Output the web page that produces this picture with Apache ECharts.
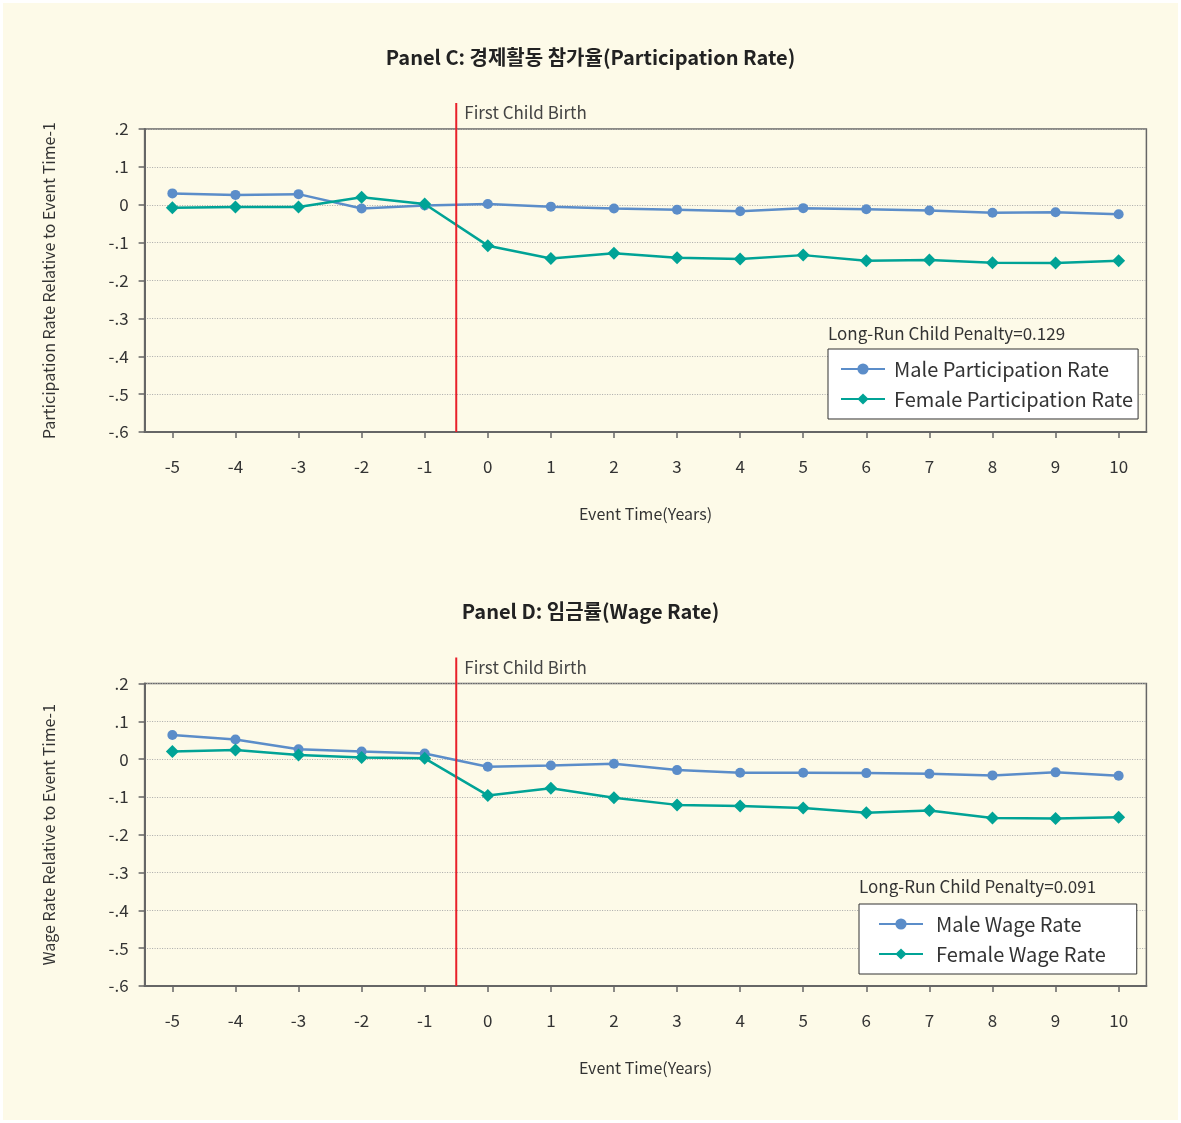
<!DOCTYPE html>
<html>
<head>
<meta charset="utf-8">
<script src="https://cdn.jsdelivr.net/npm/echarts@6/dist/echarts.min.js"></script>
<style>
html,body{margin:0;padding:0;background:#fff;}
#chart{width:1181px;height:1123px;background:#FDFAE8;box-shadow:inset 0 0 0 3px #fff;}
</style>
</head>
<body>
<div id="chart"></div>
<script>
const years = [-5,-4,-3,-2,-1,0,1,2,3,4,5,6,7,8,9,10];
const yTicks = [0.2,0.1,0,-0.1,-0.2,-0.3,-0.4,-0.5,-0.6];
const maleParticipation   = [0.030,0.026,0.028,-0.010,-0.002,0.002,-0.005,-0.010,-0.013,-0.017,-0.009,-0.012,-0.015,-0.021,-0.020,-0.025];
const femaleParticipation = [-0.008,-0.006,-0.006,0.020,0.002,-0.108,-0.142,-0.128,-0.140,-0.143,-0.133,-0.148,-0.146,-0.153,-0.154,-0.148];
const maleWage   = [0.064,0.052,0.026,0.020,0.015,-0.020,-0.017,-0.012,-0.029,-0.036,-0.036,-0.037,-0.039,-0.043,-0.035,-0.044];
const femaleWage = [0.020,0.024,0.011,0.004,0.002,-0.096,-0.077,-0.102,-0.121,-0.124,-0.129,-0.142,-0.136,-0.156,-0.157,-0.154];
const eventLine = [-0.5];
const panelTitles = ['Panel C: 경제활동 참가율(Participation Rate)','Panel D: 임금률(Wage Rate)'];
const yNames = ['Participation Rate Relative to Event Time-1','Wage Rate Relative to Event Time-1'];
const penaltyTexts = ['Long-Run Child Penalty=0.129','Long-Run Child Penalty=0.091'];
const seriesNames = [['Male Participation Rate','Female Participation Rate'],['Male Wage Rate','Female Wage Rate']];
const seriesData = [[maleParticipation,femaleParticipation],[maleWage,femaleWage]];

const FONT = '"Noto Sans CJK KR","Noto Sans",sans-serif';
const BLUE = '#5B8DC9';
const TEAL = '#00A396';
const YMIN = -0.6, YMAX = 0.2;

function fmtY(v){
  const r = Math.round(v*10)/10;
  if (r === 0) return '0';
  return (r<0?'-':'') + Math.abs(r).toFixed(1).replace(/^0/,'');
}

const grids = [
  {left:144.6, top:129, width:1001.8, height:303},
  {left:144.6, top:683.5, width:1001.8, height:302.5}
];

const chart = echarts.init(document.getElementById('chart'), null, {renderer:'canvas'});

const xAxes = grids.map((g,i)=>({
  type:'value', gridIndex:i, min:-5.44, max:10.44,
  name:'Event Time(Years)', nameLocation:'middle', nameGap:74,
  nameTextStyle:{fontSize:16, color:'#333', fontFamily:FONT},
  axisLine:{show:true, onZero:false, lineStyle:{color:'#666', width:2}},
  axisTick:{show:true, customValues:years, length:6, lineStyle:{color:'#666', width:1.5}},
  axisLabel:{customValues:years, margin:26, fontSize:17, color:'#333', fontFamily:FONT},
  splitLine:{show:false}
}));
const yAxes = grids.map((g,i)=>({
  type:'value', gridIndex:i, min:YMIN, max:YMAX, interval:0.1,
  name:yNames[i], nameLocation:'middle', nameGap:88,
  nameTextStyle:{fontSize:16, color:'#333', fontFamily:FONT},
  axisLine:{show:true, onZero:false, lineStyle:{color:'#666', width:2}},
  axisTick:{show:true, length:6, lineStyle:{color:'#666', width:1.5}},
  axisLabel:{formatter:fmtY, margin:16, fontSize:17, color:'#333', fontFamily:FONT},
  splitLine:{show:true, lineStyle:{color:'#aaa', type:[1,1.5], width:1}}
}));

const series = [];
for (let i=0;i<2;i++){
  series.push({
    name:seriesNames[i][0], type:'line', xAxisIndex:i, yAxisIndex:i,
    data:years.map((x,k)=>[x,seriesData[i][0][k]]),
    symbol:'circle', symbolSize:10, color:BLUE,
    lineStyle:{width:2.5, color:BLUE}, itemStyle:{color:BLUE}, z:3
  });
  series.push({
    name:seriesNames[i][1], type:'line', xAxisIndex:i, yAxisIndex:i,
    data:years.map((x,k)=>[x,seriesData[i][1][k]]),
    symbol:'diamond', symbolSize:13, color:TEAL,
    lineStyle:{width:2.5, color:TEAL}, itemStyle:{color:TEAL}, z:4
  });
  series.push({
    type:'custom', xAxisIndex:i, yAxisIndex:i, clip:false, silent:true, z:5,
    data:eventLine.map(v=>[v]),
    renderItem:function(params, api){
      const x = api.coord([api.value(0), YMAX])[0];
      const yTop = api.coord([api.value(0), YMAX])[1] - 26;
      const yBot = api.coord([api.value(0), YMIN])[1];
      return {type:'group', children:[
        {type:'line', shape:{x1:x,y1:yTop,x2:x,y2:yBot}, style:{stroke:'#E8202A', lineWidth:2}},
        {type:'text', x:x+8, y:yTop+10, style:{text:'First Child Birth', fill:'#444', fontSize:17, fontFamily:FONT, verticalAlign:'middle', align:'left'}}
      ]};
    }
  });
}

const legends = [
  {data:seriesNames[0], left:828, top:349, padding:[10,5,10,12], textStyle:{fontSize:20, color:'#333', fontFamily:FONT, padding:[0,0,0,4]}},
  {data:seriesNames[1], left:859, top:904, padding:[10,31,10,19], textStyle:{fontSize:20, color:'#333', fontFamily:FONT, padding:[0,0,0,8]}}
].map(l=>Object.assign({
  orient:'vertical', backgroundColor:'#fff', borderColor:'#333', borderWidth:1, borderRadius:0,
  itemWidth:44, itemHeight:14, itemGap:10, selectedMode:false
}, l));

const option = {
  animation:false,
  title: [
    {text:panelTitles[0], left:'center', top:42, textStyle:{fontSize:20, fontWeight:'bold', color:'#222', fontFamily:FONT}},
    {text:panelTitles[1], left:'center', top:596, textStyle:{fontSize:20, fontWeight:'bold', color:'#222', fontFamily:FONT}}
  ],
  grid: grids.map(g=>Object.assign({show:true, borderColor:'#666', borderWidth:1.5, backgroundColor:'transparent'}, g)),
  xAxis:xAxes, yAxis:yAxes, legend:legends, series:series,
  graphic:[
    {type:'text', left:828, top:325, style:{text:penaltyTexts[0], fontSize:17, fill:'#333', fontFamily:FONT}},
    {type:'text', left:859, top:878, style:{text:penaltyTexts[1], fontSize:17, fill:'#333', fontFamily:FONT}}
  ]
};
chart.setOption(option);
</script>
</body>
</html>
